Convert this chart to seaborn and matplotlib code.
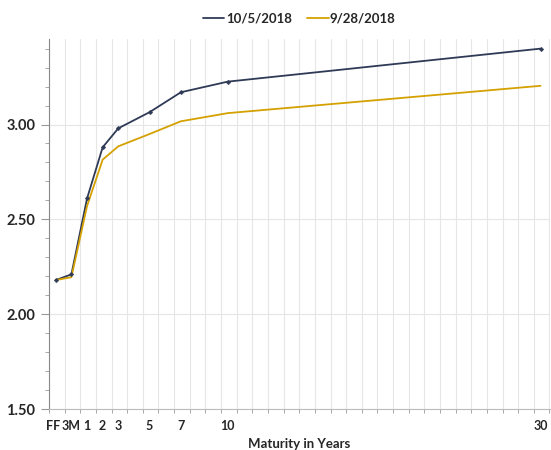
import numpy as np
import pandas as pd
import matplotlib
matplotlib.use("Agg")
import matplotlib.pyplot as plt
import matplotlib.transforms as mtransforms
import seaborn as sns
from matplotlib.ticker import MultipleLocator, FixedLocator

# data
labels = ["FF", "3M", "1", "2", "3", "5", "7", "10", "30"]
maturity = [-1, 0, 1, 2, 3, 5, 7, 10, 30]
oct05 = [2.18, 2.21, 2.61, 2.88, 2.98, 3.065, 3.17, 3.226, 3.40]
sep28 = [2.18, 2.195, 2.57, 2.815, 2.885, 2.95, 3.017, 3.06, 3.204]

df = pd.DataFrame({"Maturity": maturity * 2,
                   "Yield": oct05 + sep28,
                   "Date": ["10/5/2018"] * len(maturity)
                   + ["9/28/2018"] * len(maturity)})

sns.set_style("white")
plt.rcParams['font.family'] = ['Lato', 'DejaVu Sans']

fig = plt.figure(figsize=(5.51, 4.5), dpi=100)
ax = fig.add_axes([0.089, 0.091, 0.909, 0.822])

navy = "#2f3a56"
gold = "#d4a100"
sns.lineplot(data=df, x="Maturity", y="Yield", hue="Date",
             palette=[navy, gold], linewidth=1.3, ax=ax, legend=True)
sns.scatterplot(x=maturity, y=oct05, color=navy, marker="D", s=6,
                edgecolor=navy, ax=ax, legend=False, zorder=5)

ax.set_xlim(-1.43, 30.6)

# x: labels at maturities, gridlines every year from left edge
ax.xaxis.set_major_locator(FixedLocator(maturity))
ax.set_xticklabels(labels, fontweight="bold", fontsize=9)
ax.xaxis.set_minor_locator(FixedLocator(np.arange(-1.43, 30.7, 1.0)))
ax.tick_params(axis="x", which="major", length=0, pad=8)
ax.tick_params(axis="x", which="minor", length=3, color="#999999",
               direction="out", bottom=True)
ax.grid(axis="x", which="minor", color="#e6e6e6", linewidth=0.8)
# nudge FF a little left so it does not run into 3M
ff = ax.get_xticklabels()[0]
ff.set_transform(ff.get_transform() + mtransforms.ScaledTranslation(
    -3 / 100, 0, fig.dpi_scale_trans))

# y
ax.yaxis.set_major_locator(MultipleLocator(0.5))
ax.yaxis.set_minor_locator(MultipleLocator(0.1))
ax.set_yticks([1.5, 2.0, 2.5, 3.0])
ax.set_yticklabels(["1.50", "2.00", "2.50", "3.00"],
                   fontweight="bold", fontsize=10.5)
ax.set_ylim(1.5, 3.45)
ax.tick_params(axis="y", which="major", length=6, color="#999999",
               left=True, pad=4)
ax.tick_params(axis="y", which="minor", length=3, color="#999999",
               left=True)
ax.grid(axis="y", which="major", color="#e6e6e6", linewidth=0.8)

for s in ["top", "right"]:
    ax.spines[s].set_visible(False)
ax.spines["left"].set_color("#888888")
ax.spines["bottom"].set_color("#bbbbbb")

ax.set_xlabel("Maturity in Years", fontweight="bold", fontsize=9.5,
              labelpad=4)
ax.set_ylabel("")

leg = ax.legend(loc="upper center", bbox_to_anchor=(0.5, 1.105), ncol=2,
                frameon=False, handlelength=1.6, handletextpad=0.1,
                columnspacing=1.2, prop={"weight": "bold", "size": 9.5})

plt.savefig("out.png", dpi=100)
